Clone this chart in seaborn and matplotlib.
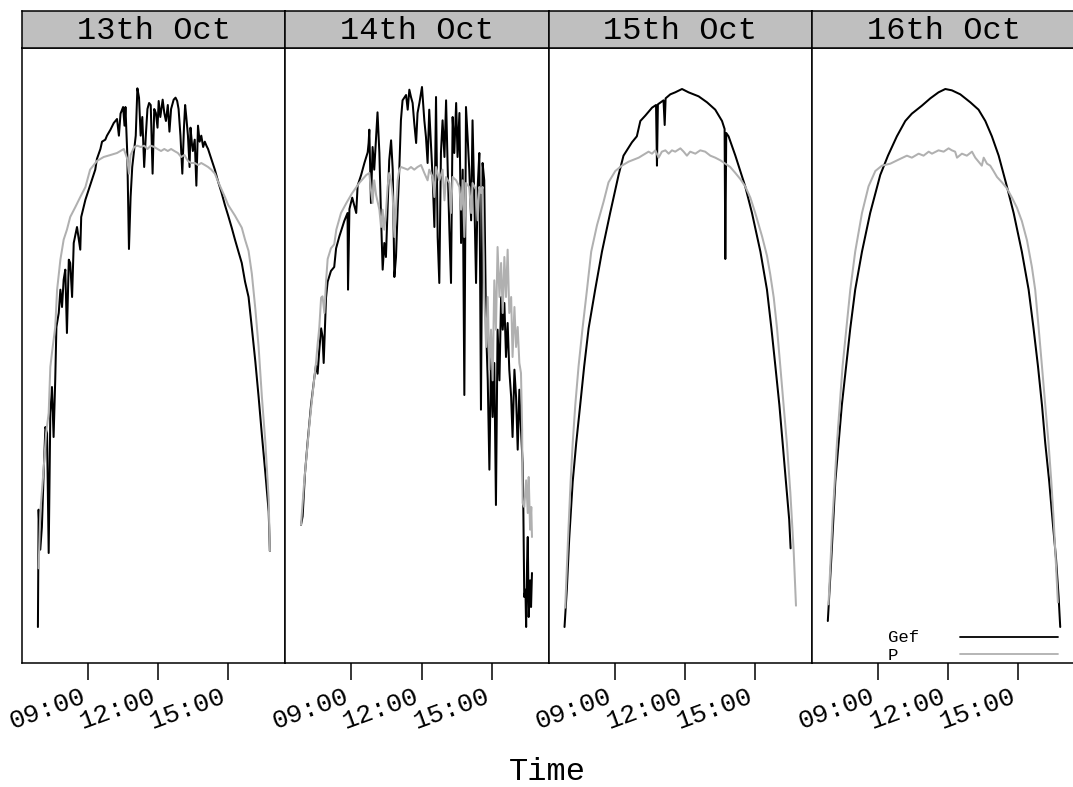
import matplotlib
matplotlib.use("Agg")
import matplotlib.pyplot as plt
import matplotlib.transforms as mtransforms
import pandas as pd
import seaborn as sns
from matplotlib.offsetbox import AnchoredOffsetbox, VPacker, HPacker, DrawingArea
from matplotlib.lines import Line2D
from matplotlib.text import Text

# ---------------- data (time in hours, value in W/m2) ----------------
DAYS = ["13th Oct", "14th Oct", "15th Oct", "16th Oct"]
SERIES = ["Gef", "P"]
TICKS = [9, 12, 15]
TICK_LABELS = ["09:00", "12:00", "15:00"]
X_LABEL = "Time"

gef_13 = [(6.86, 54), (6.89, 230), (6.96, 170), (7.03, 204), (7.11, 290), (7.18, 354), (7.25, 345),
          (7.32, 165), (7.39, 375), (7.46, 414), (7.53, 339), (7.60, 425), (7.65, 504), (7.75, 525),
          (7.82, 560), (7.89, 534), (7.96, 575), (8.03, 590), (8.10, 495), (8.18, 605), (8.24, 600),
          (8.32, 549), (8.39, 630), (8.53, 654), (8.67, 620), (8.71, 669), (8.89, 695), (9.03, 710),
          (9.17, 725), (9.31, 740), (9.38, 756), (9.53, 771), (9.60, 782), (9.74, 785), (9.81, 791),
          (9.96, 800), (10.10, 810), (10.24, 816), (10.32, 791), (10.39, 824), (10.50, 834),
          (10.56, 806), (10.60, 834), (10.68, 762), (10.75, 621), (10.82, 699), (10.89, 744),
          (11.04, 791), (11.11, 862), (11.18, 848), (11.25, 791), (11.32, 819), (11.40, 744),
          (11.47, 791), (11.54, 831), (11.61, 840), (11.68, 837), (11.76, 734), (11.83, 831),
          (11.90, 825), (11.97, 803), (12.02, 843), (12.09, 819), (12.19, 845), (12.26, 825),
          (12.33, 813), (12.41, 837), (12.48, 797), (12.55, 831), (12.66, 845), (12.74, 848),
          (12.81, 843), (12.87, 831), (12.95, 791), (13.03, 734), (13.10, 803), (13.15, 837),
          (13.20, 819), (13.27, 791), (13.34, 744), (13.38, 803), (13.44, 779), (13.48, 768),
          (13.56, 785), (13.63, 716), (13.70, 806), (13.77, 782), (13.84, 791), (13.92, 774),
          (13.99, 782), (14.06, 776), (14.13, 771), (14.27, 756), (14.42, 740), (14.56, 722),
          (14.71, 705), (14.85, 687), (14.99, 671), (15.14, 653), (15.28, 635), (15.42, 618),
          (15.57, 600), (15.71, 572), (15.86, 549), (16.00, 503), (16.15, 452), (16.29, 399),
          (16.43, 342), (16.58, 284), (16.72, 227), (16.77, 168)]

p_13 = [(6.89, 142), (6.96, 225), (7.11, 294), (7.21, 345), (7.32, 375), (7.39, 444), (7.46, 465),
        (7.60, 504), (7.68, 560), (7.82, 605), (7.96, 635), (8.10, 650), (8.24, 669), (8.46, 684),
        (8.67, 699), (8.89, 714), (9.09, 740), (9.38, 753), (9.67, 759), (9.96, 762), (10.24, 765),
        (10.53, 771), (10.68, 756), (10.75, 734), (10.82, 762), (10.97, 774), (11.11, 776),
        (11.25, 774), (11.40, 776), (11.54, 771), (11.68, 776), (11.83, 774), (11.97, 771),
        (12.12, 768), (12.26, 771), (12.41, 768), (12.55, 771), (12.69, 768), (12.84, 765),
        (12.98, 759), (13.12, 762), (13.27, 753), (13.41, 750), (13.56, 750), (13.70, 747),
        (13.84, 750), (13.99, 747), (14.13, 744), (14.27, 740), (14.42, 734), (14.56, 722),
        (14.71, 710), (14.85, 699), (14.99, 687), (15.28, 671), (15.57, 653), (15.71, 635),
        (15.86, 618), (16.00, 584), (16.15, 531), (16.29, 474), (16.43, 399), (16.58, 330),
        (16.72, 245), (16.77, 168)]

gef_14 = [(6.85, 207), (6.92, 220), (7.02, 284), (7.13, 330), (7.28, 387), (7.42, 428), (7.49, 446),
          (7.56, 434), (7.63, 468), (7.71, 502), (7.77, 490), (7.82, 450), (7.87, 500), (7.92, 548),
          (7.99, 572), (8.13, 588), (8.27, 594), (8.35, 622), (8.49, 640), (8.70, 663), (8.84, 675),
          (8.86, 560), (8.92, 681), (9.04, 698), (9.21, 675), (9.27, 716), (9.42, 732), (9.56, 750),
          (9.70, 766), (9.74, 780), (9.77, 800), (9.84, 690), (9.91, 774), (9.98, 740), (10.06, 789),
          (10.12, 826), (10.20, 765), (10.27, 669), (10.34, 590), (10.41, 630), (10.48, 609),
          (10.55, 680), (10.62, 754), (10.70, 784), (10.77, 740), (10.84, 579), (10.91, 609),
          (10.98, 680), (11.05, 740), (11.12, 814), (11.19, 844), (11.34, 852), (11.41, 830),
          (11.48, 860), (11.55, 849), (11.62, 840), (11.69, 810), (11.77, 780), (11.83, 825),
          (11.91, 840), (12.02, 864), (12.12, 814), (12.19, 789), (12.26, 750), (12.33, 830),
          (12.41, 774), (12.48, 724), (12.55, 654), (12.62, 849), (12.69, 639), (12.76, 570),
          (12.83, 765), (12.90, 814), (12.98, 759), (13.05, 844), (13.12, 740), (13.19, 650),
          (13.26, 570), (13.33, 819), (13.40, 765), (13.48, 840), (13.54, 759), (13.62, 825),
          (13.69, 630), (13.76, 740), (13.83, 402), (13.90, 834), (13.97, 789), (14.04, 740),
          (14.12, 664), (14.18, 814), (14.26, 690), (14.33, 570), (14.40, 714), (14.47, 765),
          (14.54, 380), (14.61, 750), (14.68, 724), (14.76, 500), (14.83, 424), (14.90, 290),
          (14.97, 459), (15.04, 369), (15.11, 450), (15.18, 237), (15.25, 500), (15.33, 424),
          (15.40, 549), (15.47, 500), (15.54, 540), (15.61, 459), (15.68, 510), (15.75, 440),
          (15.83, 399), (15.89, 339), (15.97, 440), (16.04, 399), (16.11, 320), (16.18, 410),
          (16.25, 350), (16.32, 300), (16.35, 234), (16.39, 99), (16.44, 110), (16.47, 54),
          (16.51, 150), (16.54, 189), (16.58, 69), (16.64, 124), (16.68, 84), (16.72, 135)]

p_14 = [(6.85, 207), (6.99, 273), (7.21, 358), (7.35, 405), (7.49, 450), (7.56, 478), (7.63, 502),
        (7.71, 548), (7.77, 550), (7.85, 525), (7.92, 572), (7.99, 606), (8.13, 622), (8.27, 628),
        (8.36, 650), (8.56, 675), (8.79, 690), (9.04, 705), (9.34, 720), (9.64, 732), (9.77, 735),
        (9.84, 710), (9.91, 690), (9.98, 724), (10.06, 702), (10.20, 680), (10.27, 654),
        (10.34, 680), (10.41, 650), (10.48, 675), (10.55, 714), (10.62, 735), (10.70, 724),
        (10.77, 699), (10.84, 639), (10.91, 680), (10.98, 724), (11.05, 740), (11.12, 744),
        (11.27, 742), (11.41, 740), (11.55, 744), (11.69, 740), (11.83, 744), (11.98, 747),
        (12.12, 735), (12.26, 724), (12.33, 740), (12.48, 729), (12.55, 699), (12.62, 744),
        (12.76, 724), (12.90, 740), (12.98, 694), (13.05, 729), (13.19, 720), (13.26, 675),
        (13.33, 729), (13.48, 724), (13.62, 714), (13.69, 680), (13.76, 724), (13.83, 639),
        (13.90, 720), (14.04, 714), (14.12, 675), (14.18, 720), (14.33, 710), (14.40, 664),
        (14.47, 714), (14.54, 705), (14.61, 714), (14.68, 549), (14.76, 474), (14.83, 549),
        (14.90, 440), (14.97, 500), (15.04, 424), (15.11, 574), (15.18, 500), (15.25, 624),
        (15.33, 549), (15.40, 600), (15.47, 525), (15.54, 609), (15.61, 549), (15.68, 620),
        (15.75, 525), (15.83, 549), (15.89, 459), (15.97, 534), (16.04, 474), (16.11, 504),
        (16.18, 450), (16.25, 435), (16.30, 350), (16.32, 240), (16.39, 234), (16.47, 274),
        (16.54, 225), (16.58, 279), (16.64, 200), (16.69, 234), (16.72, 189)]

gef_15 = [(6.86, 54), (6.96, 111), (7.06, 186), (7.21, 272), (7.36, 330), (7.53, 387), (7.70, 445),
          (7.89, 502), (8.17, 560), (8.46, 617), (8.81, 675), (9.17, 732), (9.38, 761), (9.74, 781),
          (9.95, 790), (10.10, 813), (10.31, 821), (10.60, 833), (10.77, 837), (10.81, 746),
          (10.85, 838), (11.09, 844), (11.14, 807), (11.18, 847), (11.38, 853), (11.59, 856),
          (11.88, 861), (12.16, 856), (12.59, 850), (12.95, 841), (13.30, 830), (13.59, 813),
          (13.70, 801), (13.73, 606), (13.77, 795), (13.87, 790), (14.16, 761), (14.58, 715),
          (14.87, 675), (15.23, 617), (15.51, 560), (15.70, 502), (15.87, 445), (16.04, 387),
          (16.18, 330), (16.32, 272), (16.46, 215), (16.52, 172)]

p_15 = [(6.89, 83), (7.01, 186), (7.12, 272), (7.21, 330), (7.32, 387), (7.46, 445), (7.63, 502),
        (7.82, 560), (8.00, 617), (8.25, 657), (8.53, 692), (8.74, 721), (9.03, 738), (9.31, 746),
        (9.60, 752), (10.03, 758), (10.45, 767), (10.60, 764), (10.74, 769), (10.88, 758),
        (11.02, 767), (11.17, 769), (11.31, 764), (11.45, 769), (11.59, 767), (11.81, 772),
        (11.95, 767), (12.09, 761), (12.23, 767), (12.45, 764), (12.66, 769), (12.87, 767),
        (13.09, 761), (13.30, 758), (13.52, 754), (13.73, 749), (13.94, 744), (14.16, 735),
        (14.37, 726), (14.58, 715), (14.80, 698), (15.01, 675), (15.30, 640), (15.51, 611),
        (15.65, 583), (15.80, 548), (15.94, 502), (16.08, 445), (16.22, 387), (16.36, 330),
        (16.51, 255), (16.65, 169), (16.75, 86)]

gef_16 = [(6.86, 63), (7.01, 157), (7.18, 272), (7.46, 387), (7.82, 502), (8.03, 560), (8.32, 617),
          (8.67, 675), (9.10, 732), (9.43, 761), (9.81, 790), (10.17, 813), (10.45, 824),
          (10.88, 836), (11.24, 847), (11.59, 856), (11.88, 861), (12.16, 859), (12.52, 853),
          (12.95, 841), (13.30, 830), (13.59, 813), (13.87, 790), (14.16, 761), (14.51, 715),
          (14.80, 675), (15.15, 617), (15.44, 560), (15.65, 502), (15.84, 445), (16.01, 387),
          (16.15, 330), (16.32, 272), (16.46, 215), (16.61, 157), (16.72, 100), (16.79, 54)]

p_16 = [(6.89, 88), (7.06, 215), (7.25, 330), (7.49, 445), (7.82, 560), (8.03, 617), (8.32, 675),
        (8.60, 715), (8.89, 738), (9.17, 746), (9.53, 749), (9.88, 755), (10.24, 761), (10.45, 758),
        (10.74, 764), (10.95, 761), (11.17, 767), (11.31, 764), (11.59, 769), (11.81, 767),
        (12.02, 772), (12.16, 769), (12.30, 767), (12.38, 758), (12.59, 764), (12.80, 761),
        (13.02, 767), (13.16, 758), (13.30, 752), (13.44, 746), (13.52, 758), (13.66, 749),
        (13.80, 746), (13.94, 738), (14.09, 729), (14.30, 721), (14.51, 712), (14.73, 698),
        (14.94, 683), (15.15, 663), (15.37, 634), (15.58, 594), (15.72, 560), (15.87, 502),
        (16.01, 445), (16.15, 387), (16.29, 330), (16.41, 272), (16.51, 215), (16.61, 146),
        (16.69, 91)]

DATA = {
    "13th Oct": {"Gef": gef_13, "P": p_13},
    "14th Oct": {"Gef": gef_14, "P": p_14},
    "15th Oct": {"Gef": gef_15, "P": p_15},
    "16th Oct": {"Gef": gef_16, "P": p_16},
}

rows = []
for day in DAYS:
    for s in SERIES:
        for t, v in DATA[day][s]:
            rows.append({"day": day, "series": s, "time": t, "value": v})
df = pd.DataFrame(rows)

# ---------------- style ----------------
COLORS = {"Gef": "#000000", "P": "#b0b0b0"}
sns.set_style("white")
plt.rcParams["font.family"] = ["Liberation Mono", "DejaVu Sans"]

W, H = 1073, 787
fig = plt.figure(figsize=(W / 100, H / 100), dpi=100)
LEFT, PW = 22, 263.3
TOP, BOT, STRIP_TOP = 48, 663, 11

shift = mtransforms.ScaledTranslation(-8 / 100, 3 / 100, fig.dpi_scale_trans)

axes = []
for i, day in enumerate(DAYS):
    ax = fig.add_axes([(LEFT + i * PW) / W, 1 - BOT / H, PW / W, (BOT - TOP) / H])
    sub = df[df["day"] == day]
    sns.lineplot(data=sub, x="time", y="value", hue="series", hue_order=SERIES,
                 palette=COLORS, estimator=None, sort=False, linewidth=1.45,
                 legend=False, ax=ax)
    ax.set_xlim(6.18, 17.43)
    ax.set_ylim(0, 922.5)
    ax.set_yticks([])
    ax.set_xlabel("")
    ax.set_ylabel("")
    ax.tick_params(axis="x", bottom=True, direction="out", length=12, width=1.1,
                   pad=5, color="black", labelcolor="black")
    ax.set_xticks(TICKS)
    ax.set_xticklabels(TICK_LABELS, rotation=20, ha="right", va="top",
                       rotation_mode="anchor", fontsize=19)
    for lab in ax.get_xticklabels():
        lab.set_transform(lab.get_transform() + shift)
    for sp in ax.spines.values():
        sp.set_visible(True)
        sp.set_color("black")
        sp.set_linewidth(1.1)
    axes.append(ax)

    sax = fig.add_axes([(LEFT + i * PW) / W, 1 - TOP / H, PW / W, (TOP - STRIP_TOP) / H])
    sax.set_facecolor("#bfbfbf")
    sax.set_xticks([])
    sax.set_yticks([])
    for sp in sax.spines.values():
        sp.set_visible(True)
        sp.set_color("black")
        sp.set_linewidth(1.1)
    sax.text(0.5, 0.47, day, ha="center", va="center", fontsize=23,
             color="black", transform=sax.transAxes)

fig.text(547 / W, 1 - 772 / H, X_LABEL, ha="center", va="center", fontsize=23, color="black")

# ---------------- key (legend) in the last panel ----------------
key_rows = []
for s in SERIES:
    da_txt = DrawingArea(52, 12.6, 0, 0)
    da_txt.add_artist(Text(0, 0, s, fontsize=12.5, va="baseline", ha="left", color="black"))
    da_line = DrawingArea(70.6, 12.6, 0, 0)
    da_line.add_artist(Line2D([0, 70.6], [4, 4], color=COLORS[s], linewidth=1.3))
    key_rows.append(HPacker(children=[da_txt, da_line], align="baseline", pad=0, sep=0))
key_box = VPacker(children=key_rows, align="left", pad=0, sep=0)
anchored = AnchoredOffsetbox(loc="lower right", child=key_box, pad=0, borderpad=0,
                             frameon=False, bbox_to_anchor=(1 - 17 / PW, 3 / (BOT - TOP)),
                             bbox_transform=axes[-1].transAxes)
axes[-1].add_artist(anchored)

fig.savefig("out.png", dpi=100)
